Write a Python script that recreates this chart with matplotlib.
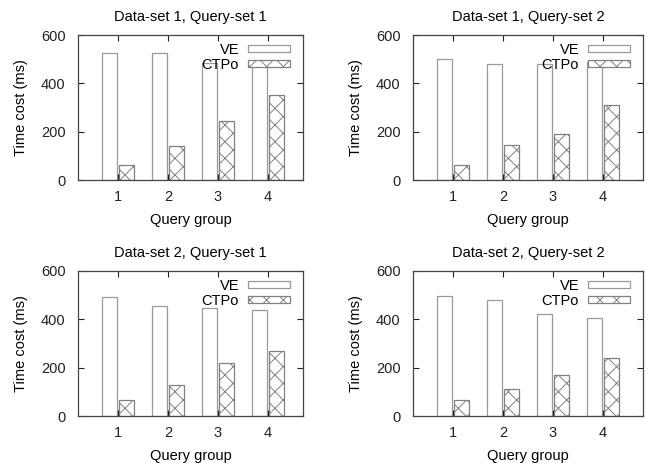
import matplotlib.pyplot as plt
import numpy as np

plt.rcParams['font.family'] = ['Liberation Sans', 'DejaVu Sans']
plt.rcParams['hatch.color'] = '#8a8a8a'
plt.rcParams['hatch.linewidth'] = 0.7

groups = [1, 2, 3, 4]
titles = ['Data-set 1, Query-set 1', 'Data-set 1, Query-set 2',
          'Data-set 2, Query-set 1', 'Data-set 2, Query-set 2']
ve = [
    [524, 524, 484, 490],
    [501, 479, 480, 488],
    [494, 454, 446, 439],
    [498, 481, 423, 407],
]
ctpo = [
    [62, 142, 243, 350],
    [62, 144, 189, 311],
    [65, 127, 219, 269],
    [68, 113, 170, 239],
]

W, H = 653, 463
# axes boxes in pixels: left, top, right, bottom
boxes = [(78, 35, 303, 180), (413, 35, 643, 180),
         (78, 271, 303, 416), (413, 271, 643, 416)]
xlims = [(0.2, 4.7), (0.2, 4.8), (0.2, 4.7), (0.2, 4.8)]

fig = plt.figure(figsize=(W / 100, H / 100), dpi=100)
x = np.array(groups)
for i in range(4):
    l, t, r, b = boxes[i]
    ax = fig.add_axes([l / W, 1 - b / H, (r - l) / W, (b - t) / H])
    ax.bar(x - 0.17, ve[i], width=0.31, color='white', edgecolor='#999999',
           linewidth=0.9, label='VE')
    ax.bar(x + 0.17, ctpo[i], width=0.31, color='white', edgecolor='#808080',
           linewidth=0.9, hatch='xx', label='CTPo')
    ax.set_xlim(*xlims[i])
    ax.set_ylim(0, 600)
    ax.set_xticks(groups)
    ax.set_yticks([0, 200, 400, 600])
    ax.tick_params(direction='in', top=True, right=True, length=4,
                   labelsize=10.5, colors='#222222', width=0.8)
    ax.tick_params(axis='y', pad=9)
    ax.tick_params(axis='x', pad=7)
    for s in ax.spines.values():
        s.set_color('#444444')
        s.set_linewidth(0.9)
    ax.set_title(titles[i], fontsize=10.5, pad=10)
    ax.set_xlabel('Query group', fontsize=10.5, labelpad=7)
    ax.set_ylabel('Time cost (ms)', fontsize=10.5, labelpad=9)
    aw = r - l
    ah = b - t
    ax.legend(loc='upper right', bbox_to_anchor=(1 - 13 / aw, 1 - 8 / ah),
              markerfirst=False, frameon=False, fontsize=10.5,
              handlelength=2.9, handleheight=0.4, labelspacing=0.05,
              borderaxespad=0, borderpad=0, handletextpad=0.6)

plt.savefig('out.png', dpi=100)
